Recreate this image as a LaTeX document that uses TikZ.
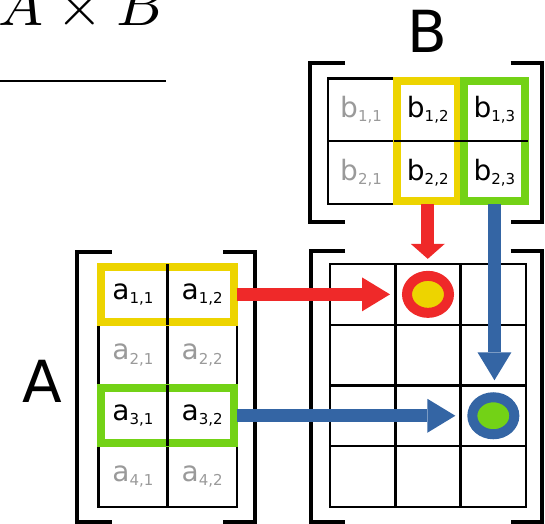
\documentclass[tikz,border=0pt]{standalone}
\usepackage{graphicx}
\usepackage{fontspec}
\setsansfont{DejaVu Sans}
\usetikzlibrary{arrows.meta,calc,shapes.geometric}
\definecolor{hired}{HTML}{EF2929}
\definecolor{hiyel}{HTML}{EDD400}
\definecolor{higrn}{HTML}{73D216}
\definecolor{hiblu}{HTML}{3465A4}
\definecolor{dim}{HTML}{9A9A9A}
\newcommand{\elem}[3]{#1\raisebox{-4.3pt}{\fontsize{15}{16}\selectfont #2,#3}}

\begin{document}
\begin{tikzpicture}[x=1pt,y=-1pt,
    cell/.style 2 args={draw,line width=2.4pt,outer sep=0pt,inner sep=0pt,
      minimum width=#1,minimum height=#2,font=\sffamily\fontsize{28}{30}\selectfont},
    gridline/.style={line width=2.4pt},
    bracket/.style={line width=3.6pt},
    hl/.style={draw=#1,line width=8pt},
    dot/.style 2 args={ellipse,draw=#1,fill=#2,line width=10pt,inner sep=0pt,
      minimum width=42pt,minimum height=37pt},
    arr/.style={line width=13pt,shorten >=12pt,-{Triangle[width=34pt,length=#1,line width=0pt]}},
    arr/.default=28pt,
    big/.style={font=\sffamily\fontsize{58}{60}\selectfont}]
  \useasboundingbox (0,0) rectangle (545,523);

  % product heading
  \node[anchor=base west,inner sep=0pt] (prod) at (-2,25.7) {\scalebox{6}{$A\times B$}};
  \draw[line width=2.8pt] ($(prod.base west)+(2,55.3)$) -- ++(166,0);

  % labels
  \node[big] (labA) at (42.5,381) {A};
  \node[big] (labB) at (427.5,31.5) {B};

  % brackets
  \draw[bracket] (111.7,251.7) -- (77,251.7) -- (77,521.7) -- (111.7,521.7);
  \draw[bracket] (223.3,251.7) -- (255,251.7) -- (255,521.7) -- (223.3,521.7);
  \draw[bracket] (345,62.7) -- (310,62.7) -- (310,221.7) -- (345,221.7);
  \draw[bracket] (510.7,62.7) -- (542,62.7) -- (542,221.7) -- (510.7,221.7);
  \draw[bracket] (345,250.7) -- (310.7,250.7) -- (310.7,521.7) -- (345,521.7);
  \draw[bracket] (510.7,250.7) -- (542,250.7) -- (542,521.7) -- (510.7,521.7);

  % matrix A
  \foreach \r/\tc in {1/black,2/dim,3/black,4/dim}
    \foreach \c in {1,2}
      \node[cell={69.2pt}{60.7pt},text=\tc] (a\r\c) at ({98.3+69.2*(\c-0.5)},{264+60.7*(\r-0.5)}) {\elem{a}{\r}{\c}};
  % matrix B
  \foreach \c/\tc in {1/dim,2/black,3/black}
    \foreach \r in {1,2}
      \node[cell={66.7pt}{62.85pt},text=\tc] (b\r\c) at ({327.7+66.7*(\c-0.5)},{78.3+62.85*(\r-0.5)}) {\elem{b}{\r}{\c}};
  % matrix AB
  \foreach \r in {1,...,4}
    \foreach \c in {1,2,3}
      \node[cell={65.33pt}{60.7pt}] (c\r\c) at ({330+65.33*(\c-0.5)},{264+60.7*(\r-0.5)}) {};

  % highlights
  \draw[hl=hiyel] ($(a11.north west)+(3,3)$) rectangle ($(a12.south east)+(-3,-3)$);
  \draw[hl=higrn] ($(a31.north west)+(3,3)$) rectangle ($(a32.south east)+(-3,-3)$);
  \draw[hl=hiyel] ($(b12.north west)+(3,3)$) rectangle ($(b22.south east)+(-3,-3)$);
  \draw[hl=higrn] ($(b13.north west)+(3,3)$) rectangle ($(b23.south east)+(-3,-3)$);
  \draw[gridline] (a11.north east) -- (a11.south east);
  \draw[gridline] (a31.north east) -- (a31.south east);
  \draw[gridline] (b12.south west) -- (b12.south east);
  \draw[gridline] (b13.south west) -- (b13.south east);

  % result entries
  \node[dot={hired}{hiyel}] (dotr) at (c12) {};
  \node[dot={hiblu}{higrn}] (dotb) at (c33) {};

  \draw[arr,hired] (a12.east) -- (a12.east -| dotr.west);
  \draw[arr=15pt,hired] (b22.south) -- (b22.south |- dotr.north);
  \draw[arr,hiblu] (b23.south) -- (b23.south |- dotb.north);
  \draw[arr,hiblu] (a32.east) -- (a32.east -| dotb.west);
\end{tikzpicture}
\end{document}
